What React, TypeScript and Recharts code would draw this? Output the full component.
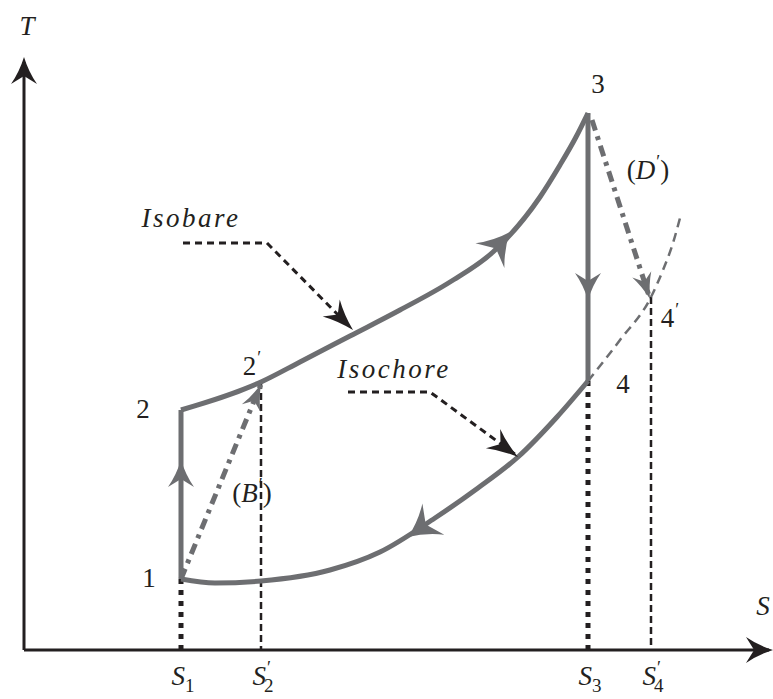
import { ComposedChart, Line, Scatter, XAxis, YAxis } from "recharts";

const WIDTH = 773;
const HEIGHT = 699;
const GRAY = "#6d6e71";
const INK = "#231f20";
const FONT = '"Liberation Serif"';

type Pt = { s: number; t: number };
const pts = (rows: number[][]): Pt[] => rows.map(([s, t]) => ({ s, t }));

// S and T in chart units, origin where the two axes cross
const isobare = pts([
  [157, 240], [237, 268], [276, 288], [326, 314], [376, 340], [426, 368],
  [469, 398], [516, 453], [536, 485], [552, 513], [564, 537],
]);
const isochore = pts([
  [157, 71], [191, 67], [237, 69], [306, 80], [356, 98], [411, 132],
  [454, 162], [494, 193], [533, 233], [564, 269],
]);
const isochoreBeyond = pts([[564, 269], [596, 310], [627, 353], [639, 380], [649, 407], [656, 432]]);
const heating = pts([[157, 71], [157, 240]]); // 1 -> 2
const expansion = pts([[564, 537], [564, 269]]); // 3 -> 4
const realCompression = pts([[157, 71], [237, 266]]); // (B')
const realExpansion = pts([[568, 530], [626, 351]]); // (D')
const sAxis = pts([[0, 0], [745, 0]]);
const tAxis = pts([[0, 0], [0, 588]]);
const isobareNote = pts([[159, 407], [243, 407], [327, 322]]);
const isochoreNote = pts([[324, 258], [406, 258], [492, 195]]);

// entropy marks on the S axis, and the temperature of the state above each
const sTicks = [
  { s: 157, top: 71, sub: "1", real: false },
  { s: 237, top: 268, sub: "2", real: true },
  { s: 564, top: 269, sub: "3", real: false },
  { s: 627, top: 353, sub: "4", real: true },
];

// arrow tips, with a point behind each one giving its direction
const arrows = [
  { kind: "cycle", s: 157, t: 190, fs: 157, ft: 98 },
  { kind: "cycle", s: 564, t: 350, fs: 564, ft: 498 },
  { kind: "curve", s: 486, t: 418, fs: 469, ft: 398 },
  { kind: "curve", s: 384, t: 113, fs: 411, ft: 132 },
  { kind: "real", s: 237, t: 266, fs: 157, ft: 71 },
  { kind: "real", s: 626, t: 351, fs: 564, ft: 537 },
  { kind: "note", s: 329, t: 320, fs: 243, ft: 407 },
  { kind: "note", s: 494, t: 193, fs: 406, ft: 258 },
  { kind: "axis", s: 749, t: 0, fs: 0, ft: 0 },
  { kind: "axis", s: 0, t: 593, fs: 0, ft: 0 },
];

const labels = [
  { s: 3, t: 615, main: "T", italic: true },
  { s: 739, t: 35, main: "S", italic: true },
  { s: 125, t: 63, main: "1" },
  { s: 119, t: 232, main: "2" },
  { s: 228, t: 275, main: "2", prime: true },
  { s: 574, t: 557, main: "3" },
  { s: 599, t: 257, main: "4" },
  { s: 646, t: 323, main: "4", prime: true },
  { s: 228, t: 148, main: "B", italic: true, prime: true, pre: "(", post: ")" },
  { s: 624, t: 471, main: "D", italic: true, prime: true, pre: "(", post: ")" },
  { s: 167, t: 423, main: "Isobare", italic: true },
  { s: 370, t: 272, main: "Isochore", italic: true },
  ...sTicks.map((k) => ({ s: k.s + 2, t: -35, main: "S", italic: true, sub: k.sub, prime: k.real })),
];

const ARROW: Record<string, { len: number; half: number; fill: string }> = {
  cycle: { len: 27, half: 13, fill: GRAY },
  curve: { len: 31, half: 19, fill: GRAY },
  real: { len: 26, half: 10, fill: GRAY },
  note: { len: 31, half: 12, fill: INK },
  axis: { len: 27, half: 13, fill: INK },
};

function Arrow(props: any) {
  const { cx, cy, payload } = props;
  const st = ARROW[payload.kind];
  // scales are 1:1, so the data direction is the pixel direction (T points up)
  const ang = (Math.atan2(-(payload.t - payload.ft), payload.s - payload.fs) * 180) / Math.PI;
  const L = st.len;
  const w = st.half;
  const d = `M0 0 Q${-L * 0.55} ${-w * 0.35} ${-L} ${-w} L${-L * 0.7} 0 L${-L} ${w} Q${-L * 0.55} ${w * 0.35} 0 0Z`;
  return <path d={d} fill={st.fill} transform={`translate(${cx},${cy}) rotate(${ang})`} />;
}

const txt = (size: number, italic = false) => ({
  fontFamily: FONT,
  fontSize: size,
  fontStyle: italic ? "italic" : "normal",
});

function Label(props: any) {
  const { cx, cy, payload } = props;
  const { main, italic, prime, sub, pre, post } = payload;
  return (
    <text
      x={cx}
      y={cy}
      textAnchor="middle"
      fill={INK}
      style={{ ...txt(27), letterSpacing: main.length > 1 ? 2.5 : 0 }}
    >
      {pre && <tspan style={txt(27)}>{pre}</tspan>}
      <tspan style={txt(27, italic)}>{main}</tspan>
      {prime && (
        <tspan dx={1} dy={-11} style={txt(18)}>
          ′
        </tspan>
      )}
      {sub && (
        <tspan dx={prime ? -7 : 0} dy={prime ? 18 : 7} style={txt(19)}>
          {sub}
        </tspan>
      )}
      {post && (
        <tspan dy={prime ? 11 : 0} style={txt(27)}>
          {post}
        </tspan>
      )}
    </text>
  );
}

const line = (key: string, data: Pt[], stroke: string, width: number, dash?: string, curved = false) => (
  <Line
    key={key}
    data={data}
    dataKey="t"
    type={curved ? "monotone" : "linear"}
    stroke={stroke}
    strokeWidth={width}
    strokeDasharray={dash}
    dot={false}
    activeDot={false}
    isAnimationActive={false}
  />
);

export default function App() {
  return (
    <div style={{ width: WIDTH, height: HEIGHT, background: "#fff" }}>
      <style>{"body{margin:0}"}</style>
      <ComposedChart width={WIDTH} height={HEIGHT} margin={{ top: 0, right: 0, bottom: 0, left: 0 }}>
        <XAxis type="number" dataKey="s" domain={[-24, 749]} allowDataOverflow hide />
        <YAxis type="number" dataKey="t" domain={[-49, 650]} allowDataOverflow hide />
        {line("sAxis", sAxis, INK, 3)}
        {line("tAxis", tAxis, INK, 3)}
        {sTicks.map((k) =>
          line(
            "drop" + k.sub,
            pts([[k.s, k.top], [k.s, 0]]),
            INK,
            k.real ? 2.5 : 5,
            k.real ? "7 4" : "5 6"
          )
        )}
        {line("isobareNote", isobareNote, INK, 3, "7 5")}
        {line("isochoreNote", isochoreNote, INK, 3, "7 5")}
        {line("beyond", isochoreBeyond, GRAY, 2.5, "9 6", true)}
        {line("B", realCompression, GRAY, 5, "11 6 4 6")}
        {line("D", realExpansion, GRAY, 5, "11 6 4 6")}
        {line("isobare", isobare, GRAY, 5, undefined, true)}
        {line("isochore", isochore, GRAY, 5, undefined, true)}
        {line("heating", heating, GRAY, 5)}
        {line("expansion", expansion, GRAY, 5)}
        <Scatter data={arrows} dataKey="t" shape={Arrow} isAnimationActive={false} />
        <Scatter data={labels} dataKey="t" shape={Label} isAnimationActive={false} />
      </ComposedChart>
    </div>
  );
}
